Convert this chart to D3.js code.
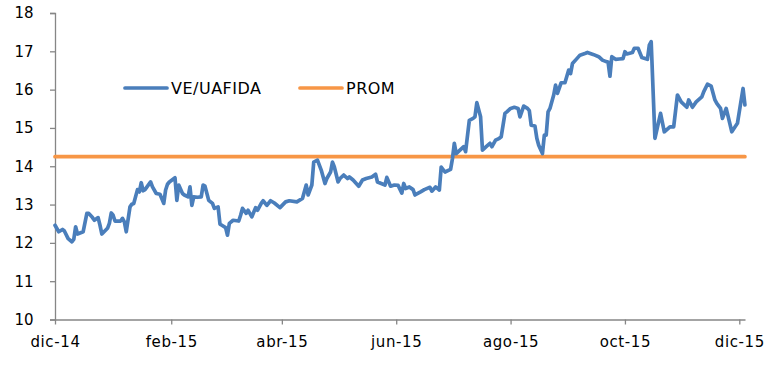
<!DOCTYPE html>
<html>
<head>
<meta charset="utf-8">
<script src="https://cdn.jsdelivr.net/npm/d3@7"></script>
<style>
  html, body { margin: 0; padding: 0; background: #fff; }
  svg { display: block; font-family: "DejaVu Sans", Verdana, sans-serif; }
</style>
</head>
<body>
<svg id="chart" width="779" height="378"></svg>
<script>
// ---- Data ----
const dates = [
"2014-12-01","2014-12-03","2014-12-05","2014-12-06","2014-12-08","2014-12-10","2014-12-11","2014-12-12","2014-12-13","2014-12-14",
"2014-12-16","2014-12-18","2014-12-19","2014-12-21","2014-12-22","2014-12-24","2014-12-25","2014-12-26","2014-12-29","2014-12-30",
"2014-12-31","2015-01-01","2015-01-02","2015-01-05","2015-01-06","2015-01-07","2015-01-08","2015-01-10","2015-01-11","2015-01-12",
"2015-01-14","2015-01-15","2015-01-16","2015-01-17","2015-01-18","2015-01-21","2015-01-22","2015-01-24","2015-01-26","2015-01-28",
"2015-01-29","2015-01-30","2015-01-31","2015-02-03","2015-02-04","2015-02-05","2015-02-07","2015-02-08","2015-02-10","2015-02-11",
"2015-02-12","2015-02-13","2015-02-15","2015-02-17","2015-02-18","2015-02-19","2015-02-21","2015-02-23","2015-02-24","2015-02-26",
"2015-02-27","2015-02-28","2015-03-02","2015-03-03","2015-03-04","2015-03-06","2015-03-09","2015-03-10","2015-03-11","2015-03-13",
"2015-03-14","2015-03-16","2015-03-18","2015-03-19","2015-03-21","2015-03-22","2015-03-24","2015-03-26","2015-03-28","2015-03-31",
"2015-04-03","2015-04-05","2015-04-09","2015-04-12","2015-04-14","2015-04-15","2015-04-17","2015-04-18","2015-04-20","2015-04-22",
"2015-04-24","2015-04-25","2015-04-27","2015-04-28","2015-04-29","2015-05-01","2015-05-02","2015-05-04","2015-05-06","2015-05-07",
"2015-05-09","2015-05-12","2015-05-14","2015-05-16","2015-05-19","2015-05-21","2015-05-22","2015-05-24","2015-05-26","2015-05-27",
"2015-05-29","2015-05-31","2015-06-02","2015-06-04","2015-06-05","2015-06-06","2015-06-08","2015-06-10","2015-06-11","2015-06-14",
"2015-06-16","2015-06-19","2015-06-20","2015-06-22","2015-06-24","2015-06-25","2015-06-27","2015-06-30","2015-07-01","2015-07-02",
"2015-07-03","2015-07-05","2015-07-07","2015-07-08","2015-07-10","2015-07-12","2015-07-13","2015-07-14","2015-07-16","2015-07-17",
"2015-07-19","2015-07-21","2015-07-22","2015-07-24","2015-07-26","2015-07-27","2015-07-29","2015-07-30","2015-08-01","2015-08-03",
"2015-08-05","2015-08-06","2015-08-08","2015-08-10","2015-08-11","2015-08-12","2015-08-14","2015-08-15","2015-08-16","2015-08-18",
"2015-08-19","2015-08-20","2015-08-21","2015-08-22","2015-08-24","2015-08-25","2015-08-26","2015-08-28","2015-08-30","2015-09-01",
"2015-09-02","2015-09-03","2015-09-05","2015-09-07","2015-09-10","2015-09-11","2015-09-14","2015-09-17","2015-09-19","2015-09-21",
"2015-09-22","2015-09-23","2015-09-24","2015-09-26","2015-09-28","2015-09-30","2015-10-01","2015-10-02","2015-10-05","2015-10-06",
"2015-10-08","2015-10-10","2015-10-13","2015-10-14","2015-10-15","2015-10-17","2015-10-20","2015-10-22","2015-10-25","2015-10-27",
"2015-10-29","2015-10-31","2015-11-03","2015-11-04","2015-11-06","2015-11-08","2015-11-11","2015-11-12","2015-11-14","2015-11-16",
"2015-11-18","2015-11-19","2015-11-21","2015-11-22","2015-11-24","2015-11-27","2015-11-30","2015-12-02","2015-12-03","2015-12-04"
];
const veUafida = [
12.46,12.29,12.35,12.31,12.11,12.03,12.09,12.42,12.23,12.25,
12.29,12.77,12.77,12.66,12.59,12.66,12.46,12.23,12.38,12.51,
12.78,12.72,12.57,12.57,12.64,12.55,12.29,12.94,13.01,13.03,
13.39,13.33,13.57,13.36,13.39,13.59,13.46,13.29,13.27,13.03,
13.38,13.53,13.59,13.70,13.11,13.51,13.29,13.25,13.20,13.46,
12.98,13.20,13.19,13.20,13.51,13.48,13.11,13.03,12.90,12.94,
12.49,12.46,12.40,12.20,12.51,12.59,12.57,12.72,12.90,12.77,
12.85,12.68,12.92,12.85,13.03,13.10,12.98,13.10,13.04,12.92,
13.07,13.10,13.07,13.16,13.51,13.25,13.51,14.11,14.16,13.90,
13.55,13.68,13.85,14.11,13.98,13.59,13.68,13.77,13.68,13.72,
13.64,13.48,13.64,13.68,13.72,13.79,13.59,13.55,13.51,13.71,
13.48,13.51,13.50,13.30,13.55,13.42,13.46,13.39,13.25,13.33,
13.39,13.45,13.35,13.46,13.38,13.98,13.85,13.92,14.20,14.60,
14.33,14.42,14.51,14.38,15.20,15.25,15.29,15.66,15.29,14.42,
14.51,14.60,14.51,14.68,14.73,14.77,15.38,15.42,15.51,15.54,
15.51,15.29,15.57,15.51,15.45,15.07,15.05,14.73,14.55,14.33,
14.81,14.81,15.42,15.51,15.86,16.12,15.90,16.18,16.18,16.51,
16.42,16.68,16.79,16.90,16.95,16.97,16.92,16.86,16.77,16.73,
16.72,16.35,16.86,16.79,16.80,16.81,16.99,16.93,16.97,17.08,
17.08,16.84,16.79,17.16,17.25,14.73,15.38,14.90,15.03,15.03,
15.86,15.68,15.54,15.73,15.54,15.68,15.81,15.94,16.14,16.09,
15.73,15.64,15.51,15.25,15.51,14.90,15.12,15.73,16.03,15.60
];
const promValue = 14.25;
const seriesNames = ["VE/UAFIDA", "PROM"];
const xTickDates = ["2014-12-01","2015-02-01","2015-04-01","2015-06-01","2015-08-01","2015-10-01","2015-12-01"];
const xTickLabels = ["dic-14","feb-15","abr-15","jun-15","ago-15","oct-15","dic-15"];
const yTicks = [10, 11, 12, 13, 14, 15, 16, 17, 18];

// ---- Layout ----
const parse = d3.timeParse("%Y-%m-%d");
const svg = d3.select("#chart");
const mLeft = 55, mRight = 739.3, mTop = 13, mBottom = 319.5;
const axisEnd = 745.5;
const colorBlue = "#4a7ebb", colorOrange = "#f79646", axisColor = "#868686";

const x = d3.scaleTime()
  .domain([parse(xTickDates[0]), parse(xTickDates[xTickDates.length - 1])])
  .range([mLeft, mRight]);
const y = d3.scaleLinear().domain([10, 18]).range([mBottom, mTop]);

const data = dates.map((d, i) => ({ date: parse(d), value: veUafida[i] }));

// Y axis
const yAxis = d3.axisLeft(y).tickValues(yTicks).tickSize(5).tickPadding(16.5).tickFormat(d3.format("d"));
const gy = svg.append("g").attr("transform", `translate(${mLeft},0)`).call(yAxis);
gy.select(".domain").attr("stroke", axisColor).attr("stroke-width", 1.3);
gy.selectAll(".tick line").attr("stroke", axisColor).attr("stroke-width", 1.3);
gy.selectAll(".tick text").attr("fill", "#000").attr("font-size", 15)
  .attr("font-family", "DejaVu Sans, Verdana, sans-serif");

// X axis
const xAxis = d3.axisBottom(x)
  .tickValues(xTickDates.map(parse))
  .tickSize(5).tickPadding(12)
  .tickFormat((d, i) => xTickLabels[i]);
const gx = svg.append("g").attr("transform", `translate(0,${mBottom})`).call(xAxis);
gx.select(".domain").attr("d", `M${mLeft},0.5H${axisEnd}`).attr("stroke", axisColor).attr("stroke-width", 1.3);
gx.selectAll(".tick line").attr("stroke", axisColor).attr("stroke-width", 1.3);
gx.selectAll(".tick text").attr("fill", "#000").attr("font-size", 15)
  .attr("letter-spacing", 0.6)
  .attr("font-family", "DejaVu Sans, Verdana, sans-serif");

// PROM line
const lastDate = data[data.length - 1].date;
svg.append("path")
  .datum([{ date: data[0].date, value: promValue }, { date: lastDate, value: promValue }])
  .attr("fill", "none").attr("stroke", colorOrange).attr("stroke-width", 3.7)
  .attr("stroke-linecap", "round")
  .attr("d", d3.line().x(d => x(d.date)).y(d => y(d.value)));

// VE/UAFIDA line
svg.append("path")
  .datum(data)
  .attr("fill", "none").attr("stroke", colorBlue).attr("stroke-width", 3.7)
  .attr("stroke-linejoin", "round").attr("stroke-linecap", "round")
  .attr("d", d3.line().x(d => x(d.date)).y(d => y(d.value)));

// Legend
const legend = svg.append("g");
const legendItems = [
  { name: seriesNames[0], color: colorBlue, x0: 125, x1: 167, tx: 171 },
  { name: seriesNames[1], color: colorOrange, x0: 300, x1: 342, tx: 346 }
];
legendItems.forEach(it => {
  legend.append("line").attr("x1", it.x0).attr("x2", it.x1).attr("y1", 88).attr("y2", 88)
    .attr("stroke", it.color).attr("stroke-width", 3.7).attr("stroke-linecap", "round");
  legend.append("text").attr("x", it.tx).attr("y", 94).attr("font-size", 16)
    .attr("letter-spacing", 0.5).attr("fill", "#000")
    .text(it.name);
});
</script>
</body>
</html>
